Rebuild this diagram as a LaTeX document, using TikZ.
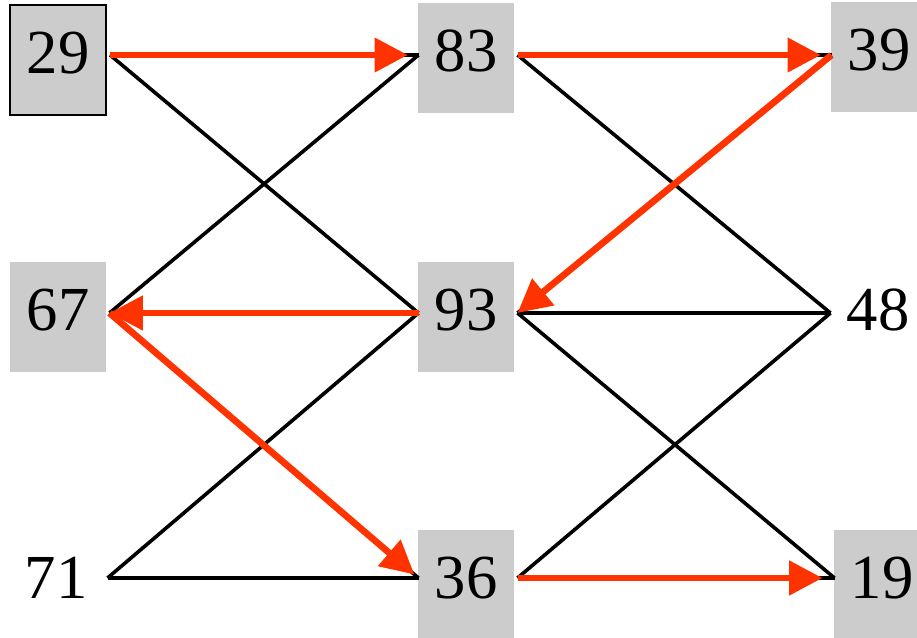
\documentclass[tikz,border=0pt]{standalone}
\usepackage{fontspec}
\setmainfont{Liberation Serif}
\usetikzlibrary{arrows.meta,calc}
\definecolor{cellgray}{RGB}{204,204,204}
\definecolor{pathred}{RGB}{255,51,0}
\tikzset{every picture/.style={line width=0.75pt}}
\tikzset{
  numcell/.style={fill=cellgray, minimum width=72pt, minimum height=82.5pt, inner sep=0pt, text height=32pt, text depth=12pt, font=\fontsize{47}{50}\selectfont},
  numbare/.style={numcell, fill=none},
  link/.style={line width=2.7pt},
  hop/.style={draw=pathred, line width=5pt, -{Triangle[length=25pt,width=25pt]}},
}
\begin{document}
\begin{tikzpicture}[x=0.75pt,y=0.75pt,yscale=-1,xscale=1]
\useasboundingbox (0,0) rectangle (917,638);
%Shape: Cells [id:col1]
\node [numcell, draw=black, line width=1.5pt] (n29) at (58,60) {29};
\node [numcell] (n67) at (58,317) {67};
\node [numbare] (n71) at (56,585) {71};
%Shape: Cells [id:col2]
\node [numcell] (n83) at (466,58) {83};
\node [numcell] (n93) at (466,317) {93};
\node [numcell] (n36) at (466,585) {36};
%Shape: Cells [id:col3]
\node [numcell] (n39) at (879,57) {39};
\node [numbare] (n48) at (878,317) {48};
\node [numcell] (n19) at (882,585) {19};
%Ports [id:ports]
\foreach \n/\dy in {29/-5,83/-3,39/-2,67/-4,93/-4,48/-4,71/-7,36/-7,19/-7}{
  \coordinate (p\n e) at ($(n\n.east)+(3,\dy)$);
  \coordinate (p\n w) at ($(n\n.west)+(1,\dy)$);
}

%Straight Lines [id:left]
\draw [link] (p29e) -- (p83w) ;
\draw [link] (p29e) -- (p93w) ;
\draw [link] (p67e) -- (p83w) ;
\draw [link] (p67e) -- (p93w) ;
\draw [link] (p67e) -- (p36w) ;
\draw [link] (p71e) -- (p93w) ;
\draw [link] (p71e) -- (p36w) ;
%Straight Lines [id:right]
\draw [link] (p83e) -- (p39w) ;
\draw [link] (p83e) -- (p48w) ;
\draw [link] (p39w) -- (p93e) ;
\draw [link] (p93e) -- (p48w) ;
\draw [link] (p93e) -- (p19w) ;
\draw [link] (p36e) -- (p48w) ;
\draw [link] (p36e) -- (p19w) ;

%Arrows [id:path]
\draw [hop, shorten >=8pt] (p29e) -- (p83w) ;
\draw [hop, shorten >=8pt] (p83e) -- (p39w) ;
\draw [hop] (p39w) -- (p93e) ;
\draw [hop] (p93w) -- (p67e) ;
\draw [hop, shorten >=4pt] (p67e) -- (p36w) ;
\draw [hop, shorten >=9pt] (p36e) -- (p19w) ;
\end{tikzpicture}
\end{document}
